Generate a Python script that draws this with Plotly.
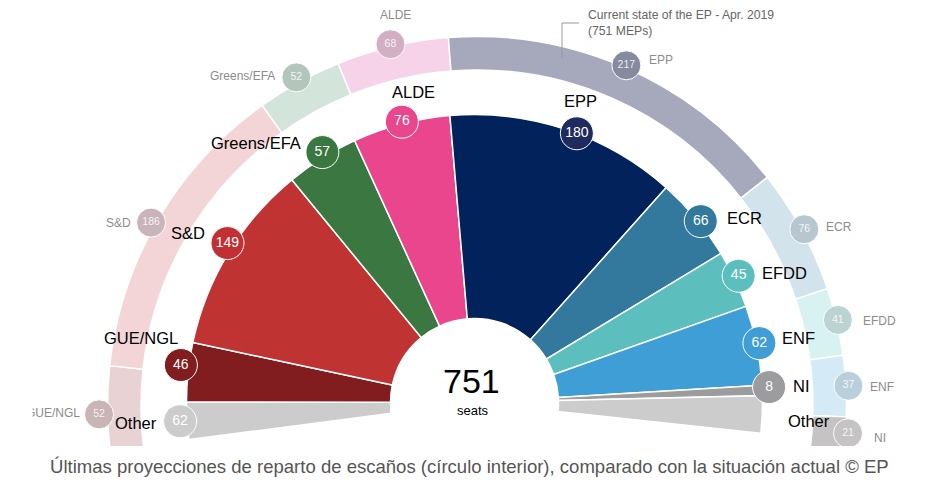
import plotly.graph_objects as go

# the page puts the figure 8px in from the top left corner of the window
PAGE_MARGIN = 8
WIDTH = 939 - 2 * PAGE_MARGIN
HEIGHT = 480 - PAGE_MARGIN
DEG_PER_SEAT = 0.2591

# the two half circles do not share a centre in the original (window pixels)
INNER_CENTER = (474.5, 402.5)
RING_CENTER = (477, 406)

# inner circle: projection. "Other" (62) is drawn in two pieces, one at each end
inner_labels = ['Other', 'GUE/NGL', 'S&D', 'Greens/EFA', 'ALDE', 'EPP', 'ECR', 'EFDD', 'ENF', 'NI', 'Other']
inner_span = [29, 46, 149, 57, 76, 180, 66, 45, 62, 8, 29]
inner_badge = ['62', '46', '149', '57', '76', '180', '66', '45', '62', '8', '']
inner_colors = ['#cbcccb', '#811d1e', '#c03333', '#3b7740', '#ea468d', '#02225b',
                '#33799e', '#5cbfbd', '#409ed7', '#9c9c9e', '#cbcccb']
inner_badge_colors = ['#cbcccb', '#811d1e', '#c23034', '#3b7740', '#ea468d', '#1f2a5e',
                      '#33799e', '#5cbfbd', '#409ed7', '#9c9c9e']

# outer ring: current state of the EP
ring_labels = ['GUE/NGL', 'S&D', 'Greens/EFA', 'ALDE', 'EPP', 'ECR', 'EFDD', 'ENF', 'NI']
ring_seats = [52, 186, 52, 68, 217, 76, 41, 37, 21]
ring_colors = ['#e9d2d3', '#f3d5d8', '#d3e4da', '#f6d3e8', '#a5a9bb', '#d2e3ec', '#d7f2f1', '#d4ebf7', '#c5c3c4']
ring_badge_colors = ['#c9b4b6', '#c9b4bb', '#b3c6bc', '#d2afc3', '#858a9e', '#b6c7d0', '#bbd4d2', '#bacfdc', '#c5c3c4']

# badges are not exactly on the middle of their slice
inner_badge_shift = [0, -1.2, -1.5, -0.7, -0.25, -2.4, -1.0, 0.3, 0.3, 0.6]
inner_badge_r = [295, 296, 294, 293, 290, 288, 290, 293, 291, 295]
ring_badge_shift = [0.8, 1.0, 0, 0.2, 0, 0, 0.2, 0, 0.2]
ring_badge_r = [378, 374, 375, 372, 372, 372, 371, 372, 372]


def px(x, y):
    return (x - PAGE_MARGIN) / WIDTH, 1 - (y - PAGE_MARGIN) / HEIGHT


def mid_angles(spans, start):
    # centre angle and width of every slice, going clockwise from start
    thetas, widths = [], []
    angle = start
    for span in spans:
        width = span * DEG_PER_SEAT
        thetas.append(angle - width / 2)
        widths.append(width)
        angle -= width
    return thetas, widths


def polar_axes(center, half):
    cx, cy = center
    return dict(
        domain=dict(x=[px(cx - half, 0)[0], px(cx + half, 0)[0]],
                    y=[px(0, cy + half * 0.17365)[1], px(0, cy - half)[1]]),
        sector=[-10, 190],
        bgcolor='rgba(0,0,0,0)',
        radialaxis=dict(range=[0, half], visible=False),
        angularaxis=dict(visible=False, thetaunit='degrees', rotation=0, direction='counterclockwise'),
    )


inner_theta, inner_width = mid_angles(inner_span, 187.4)
ring_theta, ring_width = mid_angles(ring_seats, 187.2)

fig = go.Figure()

fig.add_trace(go.Barpolar(
    r=[288 - 84] * len(inner_span), base=84, theta=inner_theta, width=inner_width,
    marker=dict(color=inner_colors, line=dict(color='white', width=1.5)),
    hoverinfo='skip', subplot='polar',
))
fig.add_trace(go.Barpolar(
    r=[369.5 - 336] * len(ring_seats), base=336, theta=ring_theta, width=ring_width,
    marker=dict(color=ring_colors, line=dict(color='white', width=1.5)),
    hoverinfo='skip', subplot='polar2',
))

# number badges
fig.add_trace(go.Scatterpolar(
    r=inner_badge_r, theta=[t + s for t, s in zip(inner_theta, inner_badge_shift)],
    mode='markers+text', text=inner_badge[:10], textposition='middle center',
    textfont=dict(family='Liberation Sans', size=14, color='white'),
    marker=dict(size=33, color=inner_badge_colors, line=dict(color='white', width=1)),
    hoverinfo='skip', subplot='polar',
))
fig.add_trace(go.Scatterpolar(
    r=ring_badge_r, theta=[t + s for t, s in zip(ring_theta, ring_badge_shift)],
    mode='markers+text', text=[str(s) for s in ring_seats], textposition='middle center',
    textfont=dict(family='Liberation Sans', size=10.5, color='rgba(255,255,255,0.85)'),
    marker=dict(size=29, color=ring_badge_colors, line=dict(color='white', width=1)),
    hoverinfo='skip', subplot='polar2',
))

fig.update_layout(
    width=WIDTH, height=HEIGHT,
    margin=dict(l=0, r=0, t=0, b=0),
    paper_bgcolor='white',
    showlegend=False,
    polar=polar_axes(INNER_CENTER, 330),
    polar2=polar_axes(RING_CENTER, 395),
)

# the ring is cut flat at the bottom, the callout line goes to the ring
fig.add_shape(type='rect', xref='paper', yref='paper', layer='above',
              x0=px(90, 0)[0], x1=px(880, 0)[0], y0=px(0, 455)[1], y1=px(0, 446)[1],
              fillcolor='white', line_width=0)
fig.add_shape(type='path', xref='paper', yref='paper', layer='above',
              path='M %f %f L %f %f L %f %f' % (*px(562, 58), *px(562, 23), *px(579, 23)),
              line=dict(color='#9a9a9a', width=1))


def label(text, x, y, size, color, xanchor='center', **kw):
    ax, ay = px(x, y)
    fig.add_annotation(text=text, x=ax, y=ay, xref='paper', yref='paper', showarrow=False,
                       xanchor=xanchor, yanchor='middle',
                       font=dict(family='Liberation Sans', size=size, color=color), **kw)


inner_label_pos = [(136, 423), (141, 338), (188, 233), (256, 143), (413, 92), (580, 101),
                   (744, 218), (784, 273), (798, 338), (801, 386), (809, 421)]
for name, (x, y) in zip(inner_labels, inner_label_pos):
    label(name, x, y, 16.5, 'black')

ring_label_pos = [(53, 413), (118, 223), (242, 76), (395, 15), (661, 60),
                  (839, 227), (879, 321), (882, 387), (880, 438)]
for name, (x, y) in zip(ring_labels, ring_label_pos):
    label(name, x, y, 12, '#8c8c8c')
# the GUE/NGL label is cut off at the left edge of the original
label(' ', 26, 413, 12, 'white', bgcolor='white', width=10, height=16)

label('751', 472, 381, 34, 'black')
label('seats', 473, 410, 13, 'black')
label('Current state of the EP - Apr. 2019<br>(751 MEPs)', 586, 23, 12.2, '#666666', xanchor='left', align='left')
label('Últimas proyecciones de reparto de escaños (círculo interior), comparado con la situación actual © EP',
      470, 466, 18.55, '#555555')

fig.write_html("out.html")
